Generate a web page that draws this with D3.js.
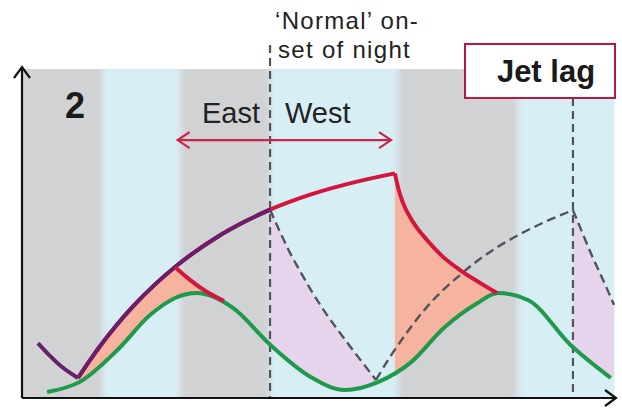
<!DOCTYPE html>
<html>
<head>
<meta charset="utf-8">
<script src="https://cdn.jsdelivr.net/npm/d3@7"></script>
<style>
  body { margin: 0; background: #fff; }
  svg { display: block; font-family: "Liberation Sans", Arial, sans-serif; }
</style>
</head>
<body>
<svg id="chart" width="622" height="409"></svg>
<script>
// time in hours from the start, level in arbitrary units (0-100)
const bandEdges = [0, 6.45, 12.6, 19.76, 29.95, 39.5, 47.2];
const bandKinds = ["night", "day", "night", "day", "night", "day"];

// circadian rhythm (green)
const circadian = [
  [2.0, 1.8], [4.6, 4.9], [7.6, 14.6], [10.2, 25.2], [12.2, 30.4], [13.9, 31.9],
  [16.8, 27.4], [19.8, 16.1], [23.0, 6.4], [25.7, 2.4], [28.4, 4.9], [31.0, 10.9],
  [33.6, 21.3], [36.3, 28.9], [37.9, 31.9], [40.3, 29.8], [43.7, 16.1], [46.9, 6.1]
];

// sleep pressure, last sleep before the trip
const pressureSleep = [[1.27, 16.7], [2.23, 12.8], [3.19, 9.4], [4.46, 6.1]];
// sleep pressure while awake (purple before normal night onset, red after)
const pressureAwake = [
  [4.46, 6.08], [5.42, 11.52], [6.21, 15.74], [7.41, 21.58], [8.84, 27.84],
  [10.6, 34.53], [12.19, 39.82], [13.78, 44.44], [15.53, 48.88], [17.76, 53.62],
  [19.76, 57.24], [23.02, 61.88], [26.93, 66.01], [29.71, 68.27]
];
// going to sleep early (flying east)
const eastSleep = [[12.19, 39.82], [13.38, 35.9], [14.74, 32.2], [16.09, 29.5]];
// going to sleep late (flying west)
const westSleep = [
  [29.71, 68.27], [29.95, 64.1], [30.35, 59.3], [31.15, 53.5], [32.26, 48.0],
  [33.54, 42.9], [34.89, 38.9], [36.49, 35.0], [37.84, 31.9]
];
// normal schedule (dashed)
const normalSleep1 = [
  [19.76, 57.24], [20.55, 50.5], [21.35, 44.1], [22.15, 38.6], [23.02, 32.8],
  [24.14, 26.1], [25.33, 19.8], [26.77, 12.5], [28.2, 5.5]
];
const normalAwake = [
  [28.2, 5.5], [29.32, 12.5], [30.51, 19.1], [32.26, 27.7], [34.89, 37.4],
  [37.28, 44.4], [39.67, 49.8], [41.82, 53.8], [43.89, 57.1]
];
const normalSleep2 = [[43.89, 57.1], [44.61, 50.5], [45.41, 43.2], [46.29, 35.9], [47.16, 28.3]];

const nightOnsets = [19.76, 43.89];
const arrowSpan = [12.4, 29.4];
const arrowLevel = 78.4;

const svg = d3.select("#chart");
const x = d3.scaleLinear().domain([0, 47.2]).range([22, 614.5]);
const y = d3.scaleLinear().domain([0, 100]).range([398, 69]);

const colors = {
  night: "#d1d2d4",
  day: "#d8eef5",
  green: "#1f9a4c",
  red: "#d4153d",
  purple: "#6a1f6c",
  salmon: "#f6b39f",
  lavender: "#e6d3ec",
  dash: "#50555c"
};

const defs = svg.append("defs");

// soft edges between day and night
defs.append("filter").attr("id", "soft")
  .attr("x", "-5%").attr("width", "110%")
  .append("feGaussianBlur").attr("stdDeviation", "3 0");
defs.append("clipPath").attr("id", "plot-area")
  .append("rect")
  .attr("x", x(0)).attr("y", y(100))
  .attr("width", x(47.2) - x(0)).attr("height", y(0) - y(100));

// background day/night bands
svg.append("g")
  .attr("clip-path", "url(#plot-area)")
  .append("g")
  .attr("filter", "url(#soft)")
  .selectAll("rect")
  .data(bandKinds)
  .join("rect")
  .attr("x", (d, i) => (i === 0 ? x(bandEdges[i]) - 10 : x(bandEdges[i])))
  .attr("width", (d, i) => x(bandEdges[i + 1]) - x(bandEdges[i]) + (i === 0 || i === bandKinds.length - 1 ? 10 : 0))
  .attr("y", y(100))
  .attr("height", y(0) - y(100))
  .attr("fill", (d) => colors[d]);

const line = d3.line()
  .x((d) => x(d[0]))
  .y((d) => y(d[1]))
  .curve(d3.curveMonotoneX);

const area = d3.area()
  .x((d) => x(d[0]))
  .y0(y(0))
  .y1((d) => y(d[1]))
  .curve(d3.curveMonotoneX);

// clip: everything above the circadian curve
const first = circadian[0], last = circadian[circadian.length - 1];
defs.append("clipPath").attr("id", "above-green")
  .append("path")
  .attr("d", line(circadian) +
    `L${x(47.2)},${y(last[1])}L${x(47.2)},${y(100)}L${x(0)},${y(100)}L${x(0)},${y(first[1])}Z`);

defs.append("clipPath").attr("id", "before-onset")
  .append("rect")
  .attr("x", 0).attr("y", 0)
  .attr("width", x(nightOnsets[0])).attr("height", 409);

const fills = svg.append("g").attr("clip-path", "url(#above-green)");
fills.append("path").attr("d", area(pressureAwake.filter((d) => d[0] <= 12.19))).attr("fill", colors.salmon);
fills.append("path").attr("d", area(eastSleep)).attr("fill", colors.salmon);
fills.append("path").attr("d", area(westSleep)).attr("fill", colors.salmon);
fills.append("path").attr("d", area(normalSleep1)).attr("fill", colors.lavender);
fills.append("path").attr("d", area(normalSleep2)).attr("fill", colors.lavender);

// vertical markers for the normal onset of night
svg.append("g")
  .selectAll("line")
  .data(nightOnsets)
  .join("line")
  .attr("x1", (d) => x(d))
  .attr("x2", (d) => x(d))
  .attr("y1", (d, i) => (i === 0 ? 45 : 98))
  .attr("y2", y(0))
  .attr("stroke", colors.dash)
  .attr("stroke-width", 2.2)
  .attr("stroke-dasharray", "8,5");

// normal schedule
svg.append("g")
  .selectAll("path")
  .data([normalSleep1, normalAwake, normalSleep2])
  .join("path")
  .attr("d", line)
  .attr("fill", "none")
  .attr("stroke", colors.dash)
  .attr("stroke-width", 2.4)
  .attr("stroke-dasharray", "9,5");

// circadian
svg.append("path")
  .attr("d", line(circadian))
  .attr("fill", "none")
  .attr("stroke", colors.green)
  .attr("stroke-width", 4);

// sleep pressure
const curves = svg.append("g").attr("fill", "none").attr("stroke-width", 4).attr("stroke-linejoin", "round");
curves.append("path").attr("d", line(pressureSleep)).attr("stroke", colors.purple);
curves.append("path").attr("d", line(pressureAwake)).attr("stroke", colors.red);
curves.append("path").attr("d", line(pressureAwake)).attr("stroke", colors.purple)
  .attr("clip-path", "url(#before-onset)");
curves.append("path").attr("d", line(eastSleep)).attr("stroke", colors.red);
curves.append("path").attr("d", line(westSleep)).attr("stroke", colors.red);

// East / West arrow
const ay = y(arrowLevel);
const ax0 = x(arrowSpan[0]), ax1 = x(arrowSpan[1]);
const arrow = svg.append("g").attr("stroke", "#c8264a").attr("stroke-width", 2.2).attr("fill", "none");
arrow.append("line").attr("x1", ax0).attr("x2", ax1).attr("y1", ay).attr("y2", ay);
arrow.append("path").attr("d", `M${ax0 + 12},${ay - 8}L${ax0},${ay}L${ax0 + 12},${ay + 8}`);
arrow.append("path").attr("d", `M${ax1 - 12},${ay - 8}L${ax1},${ay}L${ax1 - 12},${ay + 8}`);

// axes
const axes = svg.append("g").attr("stroke", "#111").attr("stroke-width", 2.2).attr("fill", "none");
axes.append("path").attr("d", `M${x(0)},${y(0)}L${x(0)},67`);
axes.append("path").attr("d", `M${x(0) - 8},78L${x(0)},67L${x(0) + 8},78`);
axes.append("path").attr("d", `M${x(0)},${y(0)}L616,${y(0)}`);
axes.append("path").attr("d", `M605,${y(0) - 8}L616,${y(0)}L605,${y(0) + 8}`);

// labels
svg.append("text").attr("x", 65).attr("y", 118)
  .attr("font-size", 36).attr("font-weight", "bold").attr("fill", "#1a1a1a").text("2");
svg.append("text").attr("x", 202).attr("y", 123)
  .attr("font-size", 29).attr("fill", "#222").text("East");
svg.append("text").attr("x", 285).attr("y", 123)
  .attr("font-size", 29).attr("fill", "#222").text("West");

const note = svg.append("text").attr("font-size", 24).attr("fill", "#222").attr("letter-spacing", 1.3);
note.append("tspan").attr("x", 275).attr("y", 29).text("\u2018Normal\u2019 on-");
note.append("tspan").attr("x", 278).attr("y", 58).text("set of night");

// Jet lag box
svg.append("rect")
  .attr("x", 465).attr("y", 44).attr("width", 150).attr("height", 54)
  .attr("fill", "#fff").attr("stroke", "#b8173f").attr("stroke-width", 2);
svg.append("text").attr("x", 546).attr("y", 82).attr("text-anchor", "middle")
  .attr("font-size", 31).attr("font-weight", "bold").attr("fill", "#1a1a1a").text("Jet lag");
</script>
</body>
</html>
